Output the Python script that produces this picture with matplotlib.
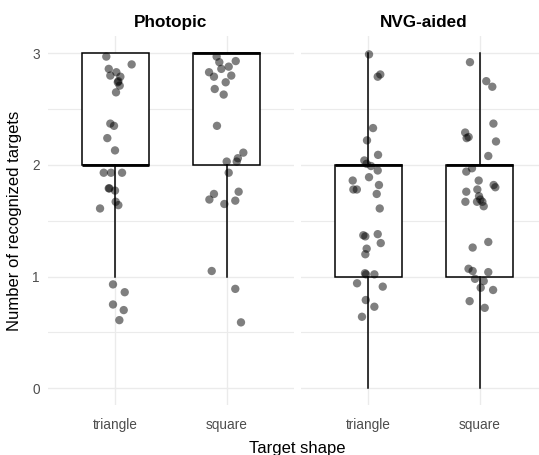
import matplotlib
matplotlib.use("Agg")
import matplotlib.pyplot as plt

plt.rcParams['font.family'] = ['Liberation Sans', 'DejaVu Sans']

panels = ["Photopic", "NVG-aided"]
categories = ["triangle", "square"]

# box stats per panel, per category: (whislo, q1, med, q3, whishi)
box_stats = {
    "Photopic": [(1, 2, 2, 3, 3), (1, 2, 3, 3, 3)],
    "NVG-aided": [(0, 1, 2, 2, 3), (0, 1, 2, 2, 3)],
}

# jittered points: horizontal offsets and values
photo_tri_dx = [-0.078, 0.149, -0.056, 0.012, -0.042, 0.048, 0.03, 0.025, 0.042, 0.009,
                -0.042, -0.009, -0.069, 0.0, -0.101, -0.036, 0.063, -0.056, -0.05, 0.0,
                0.006, 0.03, -0.134, -0.018, 0.087, -0.018, 0.078, 0.039]
photo_tri_y = [2.97, 2.90, 2.86, 2.83, 2.80, 2.79, 2.75, 2.74, 2.71, 2.65,
               2.37, 2.35, 2.24, 2.13, 1.93, 1.93, 1.93, 1.79, 1.79, 1.77,
               1.67, 1.64, 1.61, 0.93, 0.86, 0.75, 0.70, 0.61]

photo_sq_dx = [-0.09, -0.066, 0.081, -0.048, 0.018, -0.158, -0.114, 0.041, -0.009, -0.107,
               -0.027, -0.087, 0.149, 0.10, 0.09, 0.0, 0.018, -0.114, -0.155, 0.107,
               0.077, -0.021, -0.134, 0.077, 0.128]
photo_sq_y = [2.97, 2.92, 2.93, 2.86, 2.88, 2.83, 2.79, 2.80, 2.74, 2.68,
              2.63, 2.35, 2.11, 2.06, 2.03, 2.03, 1.93, 1.74, 1.69, 1.76,
              1.68, 1.65, 1.05, 0.89, 0.59]

nvg_tri_dx = [0.009, 0.11, 0.087, 0.045, -0.009, 0.09, -0.033, -0.012, 0.027, 0.087,
              0.009, -0.137, -0.131, -0.10, 0.098, 0.078, 0.105, -0.042, -0.024, 0.087,
              0.114, -0.012, -0.024, -0.027, -0.018, 0.057, -0.098, 0.132, -0.02, 0.057,
              -0.054]
nvg_tri_y = [2.99, 2.81, 2.79, 2.33, 2.22, 2.09, 2.04, 2.01, 1.99, 1.95,
             1.89, 1.86, 1.78, 1.78, 1.82, 1.74, 1.61, 1.37, 1.36, 1.38,
             1.30, 1.25, 1.20, 1.03, 1.02, 1.02, 0.94, 0.91, 0.79, 0.73,
             0.64]

nvg_sq_dx = [-0.087, 0.059, 0.113, 0.123, -0.13, -0.117, -0.099, 0.146, 0.077, -0.069,
             -0.12, -0.009, 0.125, 0.14, -0.12, -0.021, -0.006, 0.006, 0.024, -0.128,
             -0.024, 0.036, 0.077, -0.063, -0.1, -0.063, 0.077, -0.042, 0.036, 0.009,
             0.12, -0.09, 0.045]
nvg_sq_y = [2.92, 2.75, 2.70, 2.37, 2.29, 2.24, 2.25, 2.21, 2.08, 1.97,
            1.94, 1.86, 1.82, 1.80, 1.76, 1.78, 1.72, 1.69, 1.67, 1.67,
            1.67, 1.63, 1.31, 1.26, 1.07, 1.05, 1.04, 0.98, 0.96, 0.90,
            0.88, 0.78, 0.72]

points = {
    "Photopic": [(photo_tri_dx, photo_tri_y), (photo_sq_dx, photo_sq_y)],
    "NVG-aided": [(nvg_tri_dx, nvg_tri_y), (nvg_sq_dx, nvg_sq_y)],
}

yticks = [0, 1, 2, 3]
minor_y = [0.5, 1.5, 2.5]

W, H = 539, 455
fig = plt.figure(figsize=(W / 100, H / 100), dpi=100)

panel_w = 245.7
bottom_px, top_px = 405, 36.5
lefts = [48, 301]
grid_col = '#ebebeb'

for i, name in enumerate(panels):
    ax = fig.add_axes([lefts[i] / W, (H - bottom_px) / H, panel_w / W, (bottom_px - top_px) / H])

    stats = []
    for (wl, q1, med, q3, wh) in box_stats[name]:
        stats.append(dict(whislo=wl, q1=q1, med=med, q3=q3, whishi=wh, fliers=[]))
    ax.bxp(stats, positions=[1, 2], widths=0.6, showcaps=False, showfliers=False,
           patch_artist=True, manage_ticks=False,
           boxprops=dict(facecolor='white', edgecolor='black', lw=1.1),
           whiskerprops=dict(color='black', lw=1.1),
           medianprops=dict(color='black', lw=2.0), zorder=2)

    for j, (dx, yv) in enumerate(points[name]):
        xs = [j + 1 + d for d in dx]
        ax.scatter(xs, yv, s=36, color='black', alpha=0.5, edgecolors='none', zorder=3)

    ax.set_xlim(0.4, 2.6)
    ax.set_ylim(-0.15, 3.15)
    for s in ax.spines.values():
        s.set_visible(False)
    ax.set_yticks(yticks)
    ax.set_yticks(minor_y, minor=True)
    ax.set_xticks([1, 2])
    ax.set_xticklabels(categories)
    ax.grid(True, which='major', color=grid_col, lw=1.0, zorder=0)
    ax.grid(True, which='minor', axis='y', color=grid_col, lw=0.8, zorder=0)
    ax.set_axisbelow(True)
    ax.tick_params(axis='both', which='both', length=0, labelsize=9.8, labelcolor='#4d4d4d')
    ax.tick_params(axis='x', pad=9)
    ax.tick_params(axis='y', pad=6)
    if i == 1:
        ax.tick_params(axis='y', labelleft=False)

    ax.set_title(name, fontsize=12.3, fontweight='bold', pad=7, color='black')

fig.text(297 / W, 1 - 448 / H, "Target shape", ha='center', va='center', fontsize=12)
fig.text(15 / W, 1 - 221 / H, "Number of recognized targets", ha='center', va='center',
         rotation=90, fontsize=12)

fig.savefig("out.png", dpi=100)
